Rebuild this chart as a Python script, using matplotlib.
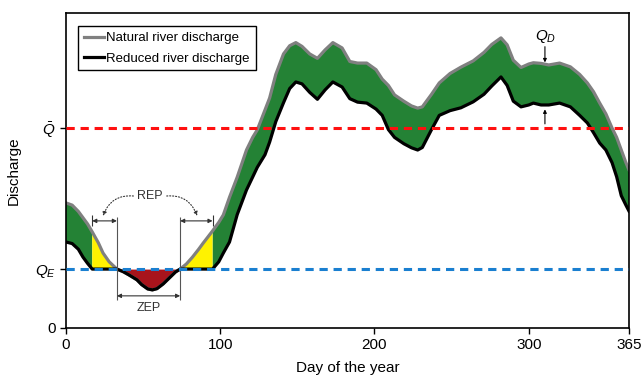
import numpy as np
import matplotlib
matplotlib.use("Agg")
import matplotlib.pyplot as plt

plt.rcParams['font.family'] = ['Liberation Sans', 'DejaVu Sans']
plt.rcParams['mathtext.fontset'] = 'custom'
plt.rcParams['mathtext.rm'] = 'Liberation Sans'
plt.rcParams['mathtext.it'] = 'Liberation Sans:italic'

# day of year and discharge (arbitrary units, axis top = 100)
days = [0, 4, 8, 11, 14, 17, 21, 24, 28, 33, 37, 41, 46, 49, 53, 56, 59, 63, 67, 71,
        74, 78, 82, 86, 89, 95, 99, 102, 106, 111, 117, 121, 124, 129, 132, 136, 141, 145,
        149, 153, 158, 163, 168, 173, 179, 184, 189, 195, 201, 205, 209, 213, 219, 224,
        228, 231, 237, 242, 249, 256, 264, 271, 276, 282, 286, 290, 295, 300, 303, 308,
        313, 320, 327, 333, 338, 342, 346, 350, 354, 357, 360, 363, 365]
natural = [39.7, 39.0, 37.0, 35.0, 33.0, 30.5, 27.0, 23.8, 21.0, 18.7, 17.9, 16.8, 15.3, 13.8, 12.4, 12.1, 12.5, 14.0, 15.9, 17.8,
           18.7, 20.3, 22.5, 25.0, 27.0, 30.8, 33.5, 35.9, 41.5, 47.9, 56.5, 60.5, 62.9, 69.2, 73.0, 80.5, 87.0, 89.6,
           90.6, 89.4, 87.0, 85.6, 88.3, 90.6, 88.9, 84.6, 84.1, 84.1, 82.0, 79.0, 77.0, 74.0, 72.0, 70.5,
           69.8, 70.2, 74.2, 77.8, 80.8, 82.8, 84.8, 87.5, 90.0, 92.1, 89.9, 85.0, 82.7, 83.8, 84.2, 84.0,
           83.5, 84.1, 82.9, 80.5, 77.8, 75.0, 71.4, 68.0, 63.5, 60.5, 56.5, 52.5, 50.2]
reduced = [27.3, 26.8, 25.0, 22.5, 20.5, 18.7, 18.7, 18.7, 18.7, 18.7, 17.9, 16.8, 15.3, 13.8, 12.4, 12.1, 12.5, 14.0, 15.9, 17.8,
           18.7, 18.7, 18.7, 18.7, 18.7, 18.7, 21.0, 23.8, 27.3, 36.0, 43.8, 47.9, 51.0, 55.0, 59.0, 65.5, 71.5, 76.0,
           78.1, 77.5, 74.8, 72.6, 75.6, 78.1, 76.5, 72.8, 71.7, 71.4, 69.5, 67.5, 63.0, 60.5, 58.5, 57.2,
           56.5, 57.3, 63.0, 67.5, 69.0, 69.9, 71.8, 74.2, 76.8, 79.7, 77.0, 72.0, 70.2, 70.8, 71.4, 70.8,
           70.8, 71.4, 70.2, 67.5, 65.1, 62.0, 58.7, 56.5, 52.5, 48.0, 42.0, 39.0, 37.1]
q_e = 18.7
q_mean = 63.5
rep_left = [17, 33]
rep_right = [74, 95]

d = np.array(days)
nat = np.array(natural)
red = np.array(reduced)

fig = plt.figure(figsize=(6.44, 3.82), dpi=100)
ax = fig.add_axes([0.1025, 0.1414, 0.8742, 0.8246])

green_zone = (d <= rep_left[0]) | (d >= rep_right[1])
yellow_zone = ((d >= rep_left[0]) & (d <= rep_left[1])) | ((d >= rep_right[0]) & (d <= rep_right[1]))
zep_zone = (d >= rep_left[1]) & (d <= rep_right[0])

ax.fill_between(d, red, nat, where=green_zone, color='#248235', lw=0)
ax.fill_between(d, q_e, nat, where=yellow_zone, color='#fff200', lw=0)
ax.fill_between(d, red, q_e, where=zep_zone, color='#a8141c', lw=0)

ax.plot(d, nat, color='#808080', lw=2.3, solid_joinstyle='round', label='Natural river discharge')
ax.plot(d, red, color='black', lw=2.3, solid_joinstyle='round', label='Reduced river discharge')

ax.axhline(q_mean, color='#ff1010', lw=2.2, ls=(0, (2.7, 1.9)), zorder=5)
ax.axhline(q_e, color='#1a7fd0', lw=2.2, ls=(0, (2.7, 1.9)), zorder=5)

# REP / ZEP brackets
ax.vlines(rep_left[1], 8.9, 35.2, color='#555555', lw=0.8)
ax.vlines(rep_right[0], 8.9, 35.2, color='#555555', lw=0.8)
ax.vlines(rep_left[0], 32.3, 36.0, color='#333333', lw=0.8)
ax.vlines(rep_right[1], 32.3, 36.0, color='#333333', lw=0.8)
arr = dict(arrowstyle='<|-|>', color='#333333', lw=0.8, mutation_scale=6, shrinkA=0, shrinkB=0)
ax.annotate('', xy=(rep_left[0], 34.0), xytext=(rep_left[1], 34.0), arrowprops=arr)
ax.annotate('', xy=(rep_right[0], 34.0), xytext=(rep_right[1], 34.0), arrowprops=arr)
ax.annotate('', xy=(rep_left[1], 10.2), xytext=(rep_right[0], 10.2), arrowprops=arr)
ax.text(53.5, 6.5, 'ZEP', ha='center', va='center', fontsize=9, color='#333333')

ax.text(54.5, 41.8, 'REP', ha='center', va='center', fontsize=9, color='#333333')
dot = dict(arrowstyle='-|>', color='#333333', lw=0.8, ls=':', mutation_scale=6, shrinkA=2, shrinkB=0)
ax.annotate('', xy=(24, 35.6), xytext=(45.5, 41.8),
            arrowprops=dict(dot, connectionstyle='arc3,rad=0.4'))
ax.annotate('', xy=(85, 35.6), xytext=(63.5, 41.8),
            arrowprops=dict(dot, connectionstyle='arc3,rad=-0.4'))

# Q_D markers
ax.text(311, 92.6, '$Q_D$', ha='center', va='center', fontsize=11)
ax.annotate('', xy=(310.5, 84.3), xytext=(310.5, 89.3),
            arrowprops=dict(arrowstyle='-|>', color='black', lw=0.8, mutation_scale=5, shrinkA=0, shrinkB=0))
ax.annotate('', xy=(310.5, 69.4), xytext=(310.5, 64.8),
            arrowprops=dict(arrowstyle='-|>', color='black', lw=0.8, mutation_scale=5, shrinkA=0, shrinkB=0))

ax.set_xlim(0, 365)
ax.set_ylim(0, 100)
ax.set_xticks([0, 100, 200, 300, 365])
ax.set_yticks([0, q_e, q_mean])
ax.set_yticklabels(['0', '$Q_E$', r'$\bar{Q}$'])
ax.tick_params(axis='both', direction='out', length=4, width=1, labelsize=11)
for s in ax.spines.values():
    s.set_linewidth(1.2)
ax.set_xlabel('Day of the year', fontsize=11, labelpad=6)
ax.set_ylabel('Discharge', fontsize=11, labelpad=10)

leg = ax.legend(loc='upper left', bbox_to_anchor=(0.022, 0.958), fontsize=9.5, handlelength=1.5,
                handletextpad=0.15, borderpad=0.45, labelspacing=0.6, fancybox=False, framealpha=1,
                borderaxespad=0)
leg.get_frame().set_edgecolor('black')
leg.get_frame().set_linewidth(1)

fig.savefig('out.png', dpi=100)
